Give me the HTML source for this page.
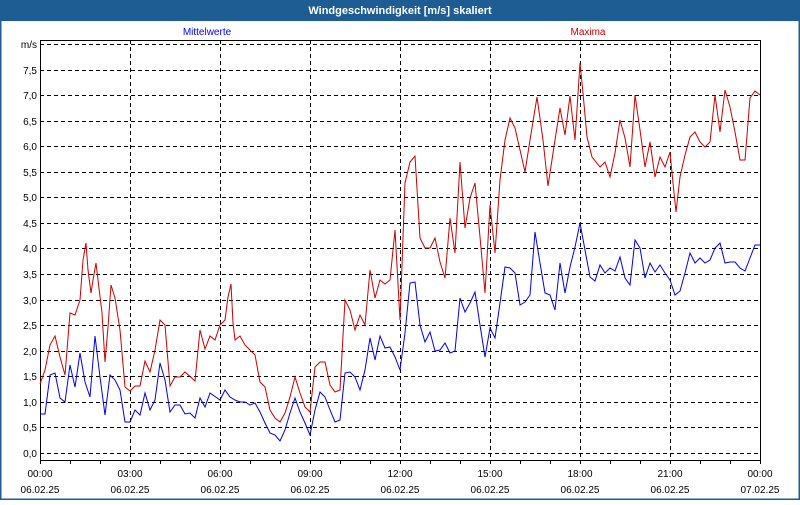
<!DOCTYPE html>
<html><head><meta charset="utf-8"><style>
body{margin:0;width:800px;height:500px;overflow:hidden;background:#fff;font-family:"Liberation Sans",sans-serif}
</style></head><body>
<svg width="800" height="500" xmlns="http://www.w3.org/2000/svg" font-family="Liberation Sans, sans-serif" font-size="10">
<rect x="0" y="0" width="800" height="500" fill="#fff"/>
<rect x="0.5" y="0.5" width="799" height="499" fill="none" stroke="#1e5c94" stroke-width="2"/>
<rect x="0" y="0" width="800" height="21" fill="#1e5c94"/>
<text x="400" y="14" text-anchor="middle" fill="#fff" font-weight="bold" font-size="11">Windgeschwindigkeit [m/s] skaliert</text>
<text x="207" y="35" text-anchor="middle" fill="#0000ff">Mittelwerte</text>
<text x="588" y="35" text-anchor="middle" fill="#cc0000">Maxima</text>
<g stroke="#000" stroke-dasharray="4,3" stroke-width="1">
<line x1="40" x2="760" y1="44.5" y2="44.5"/>
<line x1="40" x2="760" y1="70.5" y2="70.5"/><line x1="40" x2="760" y1="95.5" y2="95.5"/>
<line x1="40" x2="760" y1="121.5" y2="121.5"/><line x1="40" x2="760" y1="146.5" y2="146.5"/>
<line x1="40" x2="760" y1="172.5" y2="172.5"/><line x1="40" x2="760" y1="197.5" y2="197.5"/>
<line x1="40" x2="760" y1="223.5" y2="223.5"/><line x1="40" x2="760" y1="248.5" y2="248.5"/>
<line x1="40" x2="760" y1="274.5" y2="274.5"/><line x1="40" x2="760" y1="300.5" y2="300.5"/>
<line x1="40" x2="760" y1="325.5" y2="325.5"/><line x1="40" x2="760" y1="351.5" y2="351.5"/>
<line x1="40" x2="760" y1="376.5" y2="376.5"/><line x1="40" x2="760" y1="402.5" y2="402.5"/>
<line x1="40" x2="760" y1="427.5" y2="427.5"/><line x1="40" x2="760" y1="453.5" y2="453.5"/>
<line x1="130.5" x2="130.5" y1="40" y2="460"/><line x1="220.5" x2="220.5" y1="40" y2="460"/>
<line x1="310.5" x2="310.5" y1="40" y2="460"/><line x1="400.5" x2="400.5" y1="40" y2="460"/>
<line x1="490.5" x2="490.5" y1="40" y2="460"/><line x1="580.5" x2="580.5" y1="40" y2="460"/>
<line x1="670.5" x2="670.5" y1="40" y2="460"/>
</g>
<path d="M40.5 40V460.5H760.5V40" fill="none" stroke="#000"/>
<line x1="40" x2="760" y1="40.5" y2="40.5" stroke="#000"/>
<g stroke="#000">
<path d="M40.5 460v4M70.5 460v4M100.5 460v4M130.5 460v4M160.5 460v4M190.5 460v4M220.5 460v4M250.5 460v4M280.5 460v4M310.5 460v4M340.5 460v4M370.5 460v4M400.5 460v4M430.5 460v4M460.5 460v4M490.5 460v4M520.5 460v4M550.5 460v4M580.5 460v4M610.5 460v4M640.5 460v4M670.5 460v4M700.5 460v4M730.5 460v4M760.5 460v4"/>
</g>
<g text-anchor="end" fill="#000">
<text x="37" y="48">m/s</text><text x="37" y="74">7,5</text><text x="37" y="99">7,0</text><text x="37" y="125">6,5</text><text x="37" y="150">6,0</text><text x="37" y="176">5,5</text><text x="37" y="201">5,0</text><text x="37" y="227">4,5</text><text x="37" y="252">4,0</text><text x="37" y="278">3,5</text><text x="37" y="304">3,0</text><text x="37" y="329">2,5</text><text x="37" y="355">2,0</text><text x="37" y="380">1,5</text><text x="37" y="406">1,0</text><text x="37" y="431">0,5</text><text x="37" y="457">0,0</text>
</g>
<g text-anchor="middle" fill="#000">
<text x="40" y="477">00:00</text><text x="40" y="493">06.02.25</text>
<text x="130" y="477">03:00</text><text x="130" y="493">06.02.25</text>
<text x="220" y="477">06:00</text><text x="220" y="493">06.02.25</text>
<text x="310" y="477">09:00</text><text x="310" y="493">06.02.25</text>
<text x="400" y="477">12:00</text><text x="400" y="493">06.02.25</text>
<text x="490" y="477">15:00</text><text x="490" y="493">06.02.25</text>
<text x="580" y="477">18:00</text><text x="580" y="493">06.02.25</text>
<text x="670" y="477">21:00</text><text x="670" y="493">06.02.25</text>
<text x="760" y="477">00:00</text><text x="760" y="493">07.02.25</text>
</g>
<polyline fill="none" stroke="#cc0000" stroke-width="1" points="40,384 45,370 50,345 55,336 60,357 65,375 70,313 75,315 80,300 83,260 86,243 88,270 91,293 93,280 96,263 98,280 102,313 105,362 108,327 111,285 115,298 120,330 125,387 130,391 135,386 140,386 145,361 150,372 155,350 160,320 165,325 170,386 175,377 180,377 185,372 195,381 200,330 205,349 210,336 215,340 220,325 225,320 228,297 231,284 233,323 235,340 240,336 245,345 250,350 255,355 260,382 265,387 270,410 275,418 280,422 285,413 290,397 295,377 300,393 305,407 310,412 315,367 320,362 325,362 330,385 335,392 340,390 345,300 350,310 355,330 360,315 365,325 370,270 375,298 380,280 385,284 390,280 395,230 400,320 405,183 410,162 415,156 420,238 425,248 430,248 435,238 440,262 445,278 450,218 455,253 460,162 465,228 470,198 475,183 480,237 485,293 490,205 495,253 500,180 505,140 510,118 515,128 520,150 525,172 530,140 537,97 543,140 548,186 555,140 560,108 565,135 570,96 575,140 580,63 583,93 587,137 592,157 600,167 605,162 610,177 615,153 620,120 625,138 630,167 635,95 640,130 645,167 650,142 655,177 660,157 665,167 670,152 673,183 676,212 680,177 685,155 690,137 695,132 700,142 705,147 710,142 715,95 720,132 725,90 730,107 735,132 740,160 745,160 750,98 755,91 760,95"/>
<polyline fill="none" stroke="#0000ee" stroke-width="1" points="40,414 45,414 50,375 55,373 60,398 65,402 70,365 75,387 80,353 85,382 90,397 95,336 100,377 105,415 110,375 115,380 120,390 125,422 130,422 135,410 140,415 145,393 150,410 155,400 160,363 165,380 170,412 175,405 180,405 185,414 190,413 195,418 200,398 205,407 210,393 220,400 225,390 230,397 235,400 240,402 245,402 250,405 255,403 260,412 265,423 270,433 275,435 280,441 285,430 290,413 295,398 300,412 305,423 310,435 315,410 320,392 325,397 330,410 335,422 340,420 345,373 350,372 355,377 360,390 365,370 370,338 375,360 380,336 385,348 390,347 395,357 400,370 405,333 410,283 415,282 420,325 425,342 430,332 435,351 440,350 445,343 450,353 455,351 460,298 465,312 470,303 475,292 480,325 485,357 490,328 495,338 500,303 505,267 510,268 515,273 520,305 525,302 530,295 535,232 540,263 545,293 550,295 555,310 560,263 565,293 570,267 575,247 580,223 585,250 590,277 595,281 600,265 605,273 610,268 615,271 620,257 625,278 630,285 635,240 640,248 645,278 650,263 655,272 660,265 665,273 670,280 675,295 680,291 685,273 690,253 695,263 700,258 705,263 710,260 715,248 720,243 725,263 730,262 735,262 740,268 745,271 750,258 755,245 760,245"/>
</svg>
</body></html>
